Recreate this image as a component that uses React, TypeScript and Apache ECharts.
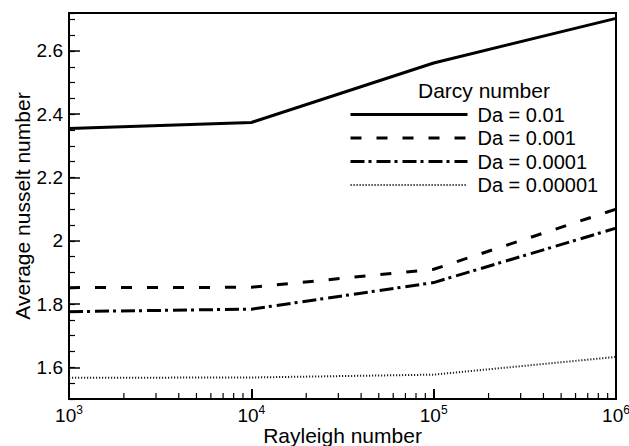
import React, { useEffect, useRef } from "react";
import * as echarts from "echarts";

const rayleigh = [1e3, 1e4, 1e5, 1e6];
const seriesNames = ["Da = 0.01", "Da = 0.001", "Da = 0.0001", "Da = 0.00001"];
const da01 = [2.355, 2.374, 2.562, 2.703];
const da001 = [1.852, 1.853, 1.91, 2.1];
const da0001 = [1.776, 1.784, 1.868, 2.04];
const da00001 = [1.567, 1.568, 1.577, 1.633];
const minorX = [
  2e3, 3e3, 4e3, 5e3, 6e3, 7e3, 8e3, 9e3,
  2e4, 3e4, 4e4, 5e4, 6e4, 7e4, 8e4, 9e4,
  2e5, 3e5, 4e5, 5e5, 6e5, 7e5, 8e5, 9e5,
];
const yMin = 1.5;
const yMax = 2.72;
const FONT = "Liberation Sans, Arial, Helvetica, sans-serif";

export default function App() {
  const ref = useRef<HTMLDivElement>(null);
  useEffect(() => {
    if (!ref.current) return;
    const chart = echarts.init(ref.current, undefined, { renderer: "svg" });
    const values = [da01, da001, da0001, da00001];
    const styles: any[] = [
      { type: "solid", width: 3, color: "#000" },
      { type: [11, 15], width: 3, color: "#000" },
      { type: [14, 4, 3, 5], width: 3, color: "#000" },
      { type: [1.2, 1.8], width: 2, color: "#222" },
    ];
    const lineSeries = seriesNames.map((name, i) => ({
      name,
      type: "line",
      symbol: "none",
      showSymbol: false,
      data: rayleigh.map((r, j) => [r, values[i][j]]),
      lineStyle: styles[i],
      itemStyle: { color: styles[i].color },
    }));
    chart.setOption({
      animation: false,
      textStyle: { fontFamily: FONT },
      grid: {
        left: 69,
        right: 13,
        top: 13,
        bottom: 47,
        containLabel: false,
        outerBoundsMode: "none",
        show: true,
        borderColor: "#000",
        borderWidth: 2,
      },
      graphic: [
        {
          type: "text",
          left: 418,
          top: 80,
          style: {
            text: "Darcy number",
            fontSize: 21,
            fontFamily: FONT,
            fill: "#000",
          },
        },
      ],
      legend: {
        orient: "vertical",
        left: 349,
        top: 103,
        padding: 0,
        itemWidth: 117,
        itemHeight: 14,
        itemGap: 0.5,
        data: seriesNames.map((name, i) => ({
          name,
          lineStyle: { width: styles[i].width, type: styles[i].type, color: styles[i].color },
        })),
        itemStyle: { opacity: 0 },
        textStyle: {
          fontSize: 20,
          lineHeight: 23,
          color: "#000",
          fontFamily: FONT,
          padding: [0, 0, 0, 5],
        },
      },
      xAxis: {
        type: "log",
        logBase: 10,
        min: 1e3,
        max: 1e6,
        name: "Rayleigh number",
        nameLocation: "middle",
        nameGap: 26,
        nameMoveOverlap: false,
        nameTextStyle: { fontSize: 21, color: "#000", fontFamily: FONT },
        axisLine: { lineStyle: { color: "#000", width: 2 } },
        axisTick: { inside: true, length: 10, lineStyle: { color: "#000", width: 2 } },
        splitLine: { show: false },
        axisLabel: {
          margin: 5,
          color: "#000",
          formatter: (v: number) => `{b|10}{s|${Math.round(Math.log10(v))}}`,
          rich: {
            b: { fontSize: 19, color: "#000", fontFamily: FONT, verticalAlign: "bottom" },
            s: { fontSize: 12, color: "#000", fontFamily: FONT, verticalAlign: "top", padding: [0, 0, 9, 0] },
          },
        },
      },
      yAxis: [
        {
          type: "value",
          min: yMin,
          max: yMax,
          position: "left",
          name: "Average nusselt number",
          nameLocation: "middle",
          nameGap: 36,
          nameMoveOverlap: false,
          nameTextStyle: { fontSize: 21, color: "#000", fontFamily: FONT },
          axisLine: { lineStyle: { color: "#000", width: 2 } },
          axisTick: { inside: true, length: 11, lineStyle: { color: "#000", width: 1.5 } },
          splitLine: { show: false },
          axisLabel: {
            margin: 6,
            fontSize: 19,
            color: "#000",
            fontFamily: FONT,
            showMinLabel: false,
            showMaxLabel: false,
            formatter: (v: number) =>
              Math.abs(v * 5 - Math.round(v * 5)) < 1e-6 ? String(Math.round(v * 10) / 10) : "",
          },
        },
        {
          type: "value",
          min: yMin,
          max: yMax,
          interval: 0.05,
          position: "left",
          offset: 0,
          axisLine: { show: false },
          axisTick: { inside: true, length: 6, lineStyle: { color: "#000", width: 1.2 } },
          axisLabel: { show: false },
          splitLine: { show: false },
        },
      ],
      series: [
        ...lineSeries,
        {
          type: "custom",
          name: "minorTicks",
          silent: true,
          clip: false,
          data: minorX.map((v) => [v, yMin]),
          encode: { x: 0, y: 1 },
          renderItem: (params: any, api: any) => {
            const p = api.coord([api.value(0), yMin]);
            return {
              type: "line",
              shape: { x1: p[0], y1: p[1], x2: p[0], y2: p[1] - 6 },
              style: { stroke: "#000", lineWidth: 1.2 },
            };
          },
        },
      ],
    });
    return () => chart.dispose();
  }, []);
  return (
    <div
      ref={ref}
      style={{ position: "fixed", left: 0, top: 0, width: 629, height: 446, background: "#fff" }}
    />
  );
}
